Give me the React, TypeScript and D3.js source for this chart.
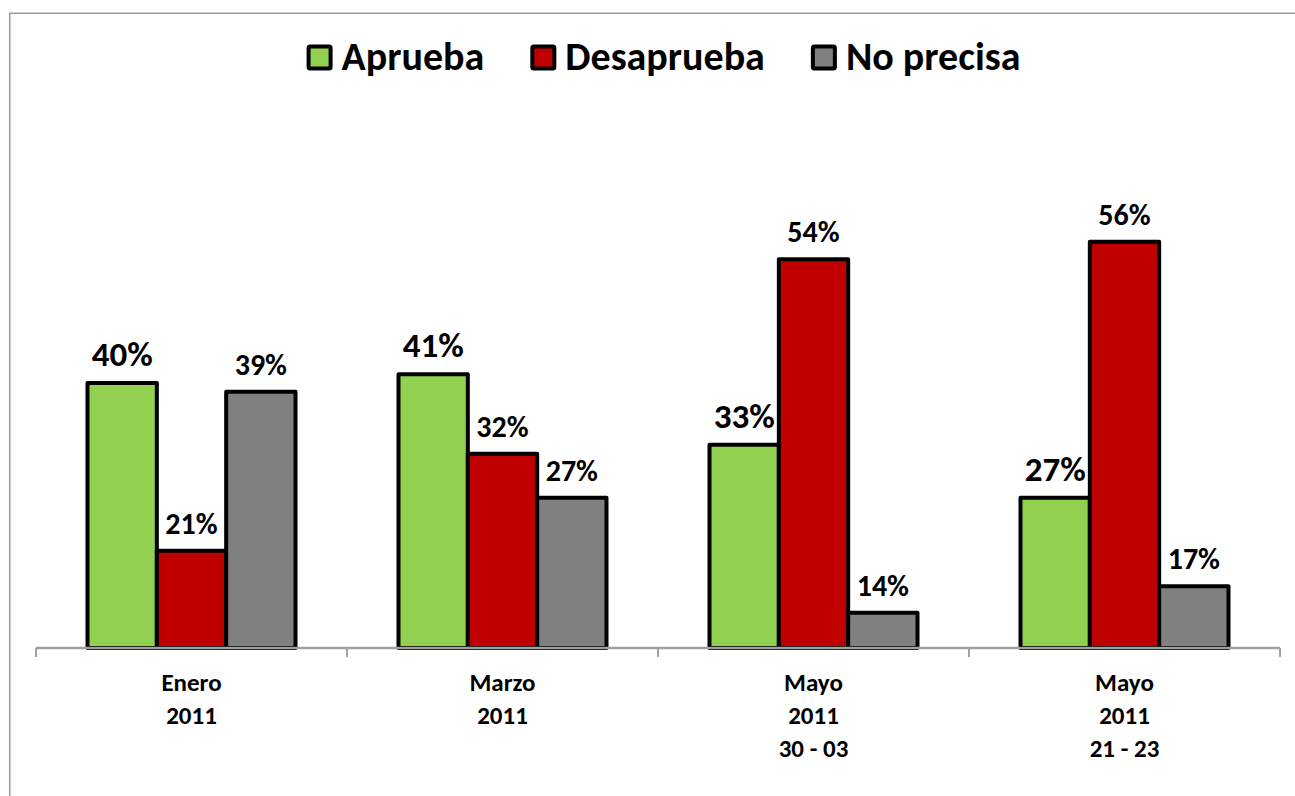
import React, { useEffect, useRef } from "react";
import * as d3 from "d3";

const categories = ["Enero|2011", "Marzo|2011", "Mayo|2011|30 - 03", "Mayo|2011|21 - 23"];
const seriesNames = ["Aprueba", "Desaprueba", "No precisa"];
const aprueba = [40, 41, 33, 27];
const desaprueba = [21, 32, 54, 56];
const noPrecisa = [39, 27, 14, 17];
const seriesColors = ["#92D050", "#C00000", "#808080"];
const labelSizes = [35, 30, 30];
const yDomain = [10, 60];

const W = 1295;
const H = 796;
const FONT = "Carlito, Calibri, Lato, 'Open Sans', sans-serif";

export default function App() {
  const ref = useRef<SVGSVGElement | null>(null);

  useEffect(() => {
    const svg = d3.select(ref.current);
    svg.selectAll("*").remove();

    const values = [aprueba, desaprueba, noPrecisa];

    // chart frame
    svg
      .append("rect")
      .attr("x", 9.75)
      .attr("y", 13.25)
      .attr("width", W + 20)
      .attr("height", H + 20)
      .attr("fill", "#fff")
      .attr("stroke", "#9a9a9a")
      .attr("stroke-width", 1.5);

    const x0 = d3.scaleBand<string>().domain(categories).range([36, 1280]).paddingInner(0).paddingOuter(0);
    const pad = 51.5;
    const x1 = d3
      .scaleBand<string>()
      .domain(seriesNames)
      .range([pad, x0.bandwidth() - pad])
      .padding(0);
    const y = d3.scaleLinear().domain(yDomain).range([648, 206.3]);

    const g = svg.append("g");

    seriesNames.forEach((s, si) => {
      categories.forEach((c, ci) => {
        const v = values[si][ci];
        const bx = (x0(c) as number) + (x1(s) as number);
        g.append("rect")
          .attr("x", bx)
          .attr("y", y(v))
          .attr("width", x1.bandwidth())
          .attr("height", y(yDomain[0]) - y(v))
          .attr("fill", seriesColors[si])
          .attr("stroke", "#000")
          .attr("stroke-width", 4)
          .attr("stroke-linejoin", "round");
      });
    });

    // labels
    seriesNames.forEach((s, si) => {
      categories.forEach((c, ci) => {
        const v = values[si][ci];
        const cx = (x0(c) as number) + (x1(s) as number) + x1.bandwidth() / 2;
        g.append("text")
          .attr("x", cx)
          .attr("y", y(v) - 17)
          .attr("text-anchor", "middle")
          .attr("font-family", FONT)
          .attr("font-weight", "bold")
          .attr("font-size", labelSizes[si])
          .attr("fill", "#000")
          .text(`${v}%`);
      });
    });

    // axis
    const axisG = svg.append("g");
    axisG
      .append("line")
      .attr("x1", 36)
      .attr("x2", 1280)
      .attr("y1", 648)
      .attr("y2", 648)
      .attr("stroke", "#a0a0a0")
      .attr("stroke-width", 2.5);
    const tickXs = categories.map((c) => x0(c) as number).concat([1280]);
    tickXs.forEach((tx) => {
      axisG
        .append("line")
        .attr("x1", tx)
        .attr("x2", tx)
        .attr("y1", 648)
        .attr("y2", 657)
        .attr("stroke", "#a0a0a0")
        .attr("stroke-width", 2);
    });
    categories.forEach((c) => {
      const lines = c.split("|");
      const cx = (x0(c) as number) + x0.bandwidth() / 2;
      const t = axisG
        .append("text")
        .attr("text-anchor", "middle")
        .attr("font-family", FONT)
        .attr("font-weight", "bold")
        .attr("font-size", 25)
        .attr("fill", "#000");
      lines.forEach((ln, i) => {
        t.append("tspan").attr("x", cx).attr("y", 691 + i * 33).text(ln);
      });
    });

    // legend
    const lg = svg.append("g");
    const sq = 22;
    const textOffset = 35;
    const gap = 46;
    const items: { node: SVGTextElement; w: number }[] = [];
    seriesNames.forEach((s) => {
      const t = lg
        .append("text")
        .attr("font-family", FONT)
        .attr("font-weight", "bold")
        .attr("font-size", 40)
        .attr("fill", "#000")
        .attr("y", 70)
        .text(s);
      const node = t.node() as SVGTextElement;
      items.push({ node, w: node.getComputedTextLength() });
    });
    const total = items.reduce((a, it) => a + textOffset + it.w, 0) + gap * (items.length - 1);
    let cur = 663.5 - total / 2;
    items.forEach((it, si) => {
      lg.insert("rect", "text")
        .attr("x", cur + 2)
        .attr("y", 46.5)
        .attr("width", sq)
        .attr("height", sq)
        .attr("fill", seriesColors[si])
        .attr("stroke", "#000")
        .attr("stroke-width", 4)
        .attr("rx", 1.5);
      d3.select(it.node).attr("x", cur + textOffset);
      cur += textOffset + it.w + gap;
    });
  }, []);

  return (
    <svg
      ref={ref}
      width={W}
      height={H}
      style={{ position: "absolute", left: 0, top: 0, background: "#fff" }}
    />
  );
}
